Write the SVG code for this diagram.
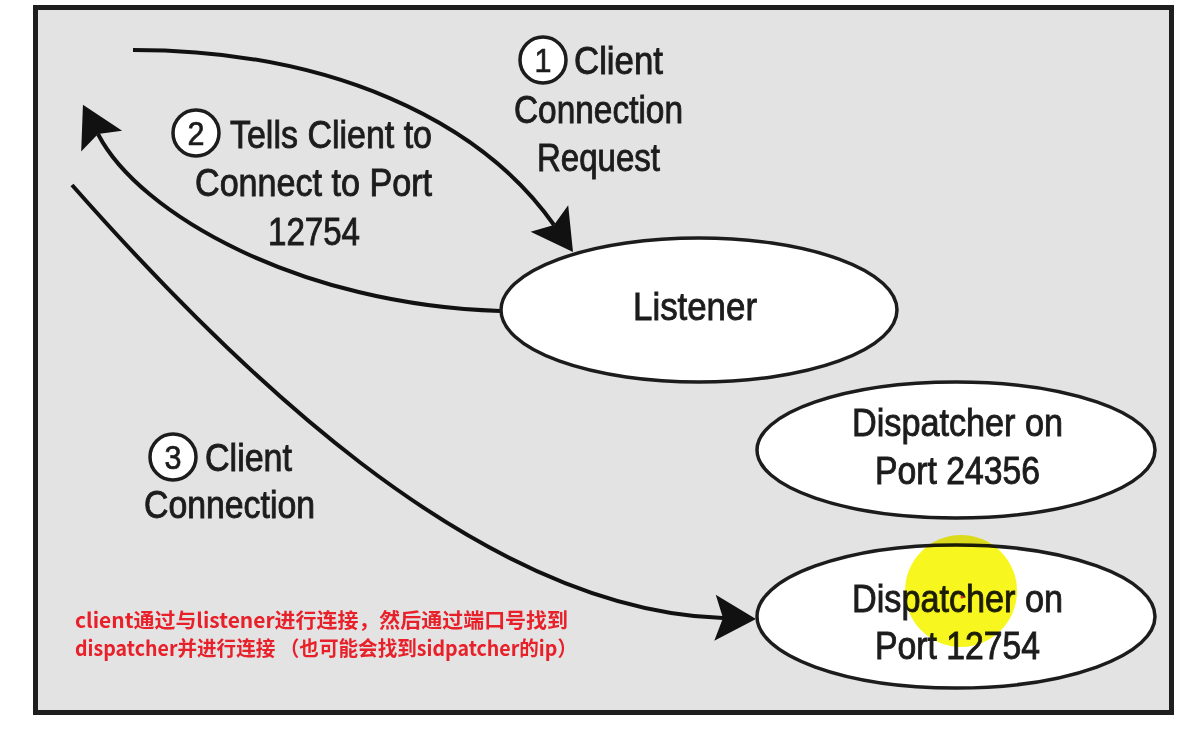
<svg xmlns="http://www.w3.org/2000/svg" width="1196" height="733" viewBox="0 0 1196 733">
  <style>
    .lbl { font-family: "Liberation Sans", Arial, sans-serif; font-size: 38px; fill: #1c1c1c; stroke: #1c1c1c; stroke-width: 0.9; }
    .num { font-family: "Liberation Sans", Arial, sans-serif; font-size: 34px; fill: #1c1c1c; stroke: #1c1c1c; stroke-width: 0.7; text-anchor: middle; }
    .badge { fill: #ffffff; stroke: #1c1c1c; stroke-width: 3.5; }
    .node { fill: #ffffff; stroke: #1c1c1c; stroke-width: 3.5; }
    .conn { fill: none; stroke: #111111; stroke-width: 4; marker-end: url(#ah); }
    .note { font-family: "Noto Sans CJK SC", "Liberation Sans", sans-serif; font-weight: bold; font-size: 20.5px; fill: #e8202a; }
  </style>
  <defs>
    <marker id="ah" markerUnits="userSpaceOnUse" viewBox="-10 -25 46 50" markerWidth="46" markerHeight="50" refX="0" refY="0" orient="auto" overflow="visible">
      <path d="M33,0 L-8,-23 L0,0 L-8,23 Z" fill="#111111"/>
    </marker>
  </defs>

  <rect x="0" y="0" width="1196" height="733" fill="#ffffff"/>
  <rect id="frame" x="35.5" y="7.5" width="1136" height="705" fill="#e3e3e3" stroke="#1e1e1e" stroke-width="5"/>

  <g id="connectors">
    <path id="c1" class="conn" d="M133,50 C330,50 480,120 554,225"/>
    <path id="c2" class="conn" d="M500,311 C300,305 139,214 98,134"/>
    <path id="c3" class="conn" d="M72,185 C224,357 473,610 723,618"/>
  </g>

  <g id="label1">
    <circle class="badge" cx="543" cy="60" r="23"/>
    <text class="num" x="543" y="72" textLength="17" lengthAdjust="spacingAndGlyphs">1</text>
    <text class="lbl" x="574" y="74" textLength="89" lengthAdjust="spacingAndGlyphs">Client</text>
    <text class="lbl" x="514" y="123" textLength="169" lengthAdjust="spacingAndGlyphs">Connection</text>
    <text class="lbl" x="537" y="171" textLength="123" lengthAdjust="spacingAndGlyphs">Request</text>
  </g>

  <g id="label2">
    <circle class="badge" cx="196" cy="133" r="23"/>
    <text class="num" x="196" y="145" textLength="17" lengthAdjust="spacingAndGlyphs">2</text>
    <text class="lbl" x="230" y="148" textLength="202" lengthAdjust="spacingAndGlyphs">Tells Client to</text>
    <text class="lbl" x="195" y="196" textLength="237" lengthAdjust="spacingAndGlyphs">Connect to Port</text>
    <text class="lbl" x="268" y="245" textLength="92" lengthAdjust="spacingAndGlyphs">12754</text>
  </g>

  <g id="label3">
    <circle class="badge" cx="173" cy="457" r="23"/>
    <text class="num" x="173" y="469" textLength="17" lengthAdjust="spacingAndGlyphs">3</text>
    <text class="lbl" x="205" y="471" textLength="87" lengthAdjust="spacingAndGlyphs">Client</text>
    <text class="lbl" x="144" y="518" textLength="171" lengthAdjust="spacingAndGlyphs">Connection</text>
  </g>

  <g id="listener">
    <ellipse class="node" cx="699" cy="310" rx="198" ry="72"/>
    <text class="lbl" x="633" y="320" style="font-size:39px" textLength="124" lengthAdjust="spacingAndGlyphs">Listener</text>
  </g>

  <g id="dispatcher-24356">
    <ellipse class="node" cx="956" cy="450" rx="199" ry="68"/>
    <text class="lbl" x="852" y="436" textLength="211" lengthAdjust="spacingAndGlyphs">Dispatcher on</text>
    <text class="lbl" x="875" y="484" textLength="165" lengthAdjust="spacingAndGlyphs">Port 24356</text>
  </g>

  <g id="dispatcher-12754">
    <ellipse class="node" cx="956" cy="616.5" rx="199" ry="71.5"/>
    <text class="lbl" x="852" y="612" textLength="211" lengthAdjust="spacingAndGlyphs">Dispatcher on</text>
    <text class="lbl" x="875" y="659" textLength="165" lengthAdjust="spacingAndGlyphs">Port 12754</text>
  </g>

  <g id="note">
    <text class="note" x="75" y="628" textLength="493" lengthAdjust="spacingAndGlyphs">client通过与listener进行连接，然后通过端口号找到</text>
    <text class="note" x="75" y="656" textLength="502" lengthAdjust="spacingAndGlyphs">dispatcher并进行连接 （也可能会找到sidpatcher的ip）</text>
  </g>

  <g id="highlight">
    <circle cx="961" cy="591" r="56" fill="#f7f61e" style="mix-blend-mode:multiply"/>
    <circle cx="962" cy="597" r="1.6" fill="#e23030"/>
  </g>
</svg>
